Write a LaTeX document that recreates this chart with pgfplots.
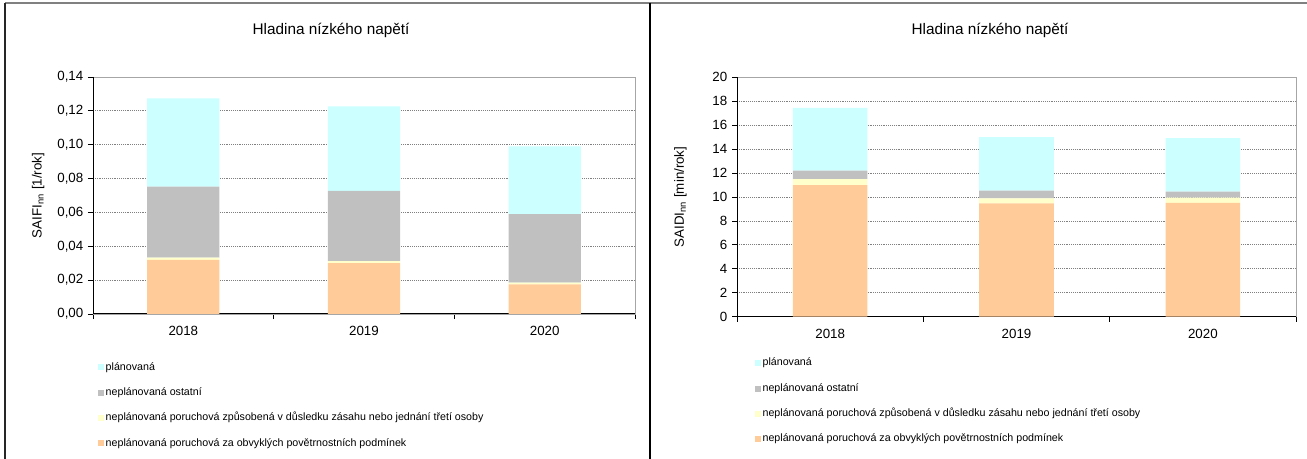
\documentclass[border=0pt]{standalone}
\usepackage{fontspec}
\setmainfont{Liberation Sans}
\usepackage{pgfplots}
\pgfplotsset{compat=1.18}

\definecolor{planovana}{HTML}{CCFFFF}
\definecolor{ostatni}{HTML}{C0C0C0}
\definecolor{tretiosoba}{HTML}{FFFFCC}
\definecolor{poveternost}{HTML}{FFCC99}
\definecolor{gridgray}{HTML}{808080}

\pgfplotsset{
  sqlegend/.style={legend image code/.code={\fill[##1] (0pt,-2.2pt) rectangle (4.4pt,2.2pt); \path (5.6pt,0pt);}},
  nnchart/.style={
    scale only axis,
    ybar stacked,
    bar width=0.4,
    ymin=0,
    xmin=-0.5, xmax=2.5,
    xtick={0,1,2},
    xticklabels={2018,2019,2020},
    major x tick style={draw=none},
    minor xtick={-0.5,0.5,1.5,2.5},
    minor tick length=3.75pt,
    major tick length=3.75pt,
    tick align=outside,
    tick pos=left,
    tick style={black, line width=0.6pt},
    ymajorgrids,
    major grid style={gridgray, densely dotted, line width=0.6pt},
    axis line style={gray!70, line width=0.7pt},
    /pgf/number format/assume math mode=true,
    tick label style={font=\fontsize{10}{12}\selectfont},
    xticklabel style={yshift=-2pt},
    ylabel style={font=\fontsize{10}{12}\selectfont},
    every axis y label/.style={at={(axis description cs:-0.101,0.5)}, rotate=90, anchor=center},
    legend style={draw=none, fill=none, inner sep=0pt, anchor=north west,
      font=\fontsize{8}{10}\selectfont, row sep=11pt,
      nodes={inner sep=0pt, text height=6pt, text depth=2pt}},
    legend cell align=left,
    reverse legend,
    every axis plot post/.append style={sqlegend},
  },
}

\begin{document}
\begin{tikzpicture}
\path[use as bounding box] (0,0) rectangle (980.25pt,-344.25pt);

% ramecky grafu
\draw[gray, line width=1.1pt] (3.75pt,-2.25pt) -- (980.25pt,-2.25pt);
\draw[black!85, line width=0.8pt] (3.75pt,-2.25pt) -- (3.75pt,-344.25pt);
\draw[black, line width=0.8pt] (487.5pt,-2.25pt) -- (487.5pt,-344.25pt);

\node[font=\fontsize{11.5}{13}\selectfont] at (248.25pt,-22.5pt) {Hladina nízkého napětí};
\node[font=\fontsize{11.5}{13}\selectfont] at (742.5pt,-22.5pt) {Hladina nízkého napětí};

% SAIFI
\begin{axis}[nnchart,
    at={(69.75pt,-57.75pt)}, anchor=north west,
    width=406.5pt, height=177.75pt,
    ymax=0.14, ytick={0,0.02,...,0.14},
    scaled y ticks=false,
    yticklabel style={/pgf/number format/.cd, use comma, fixed, fixed zerofill, precision=2},
    ylabel={SAIFI\textsubscript{nn} [1/rok]},
    legend style={at={(axis description cs:0.0092,-0.2015)}},
  ]
\addplot[fill=poveternost, draw=none] coordinates {(0,0.032) (1,0.030) (2,0.0175)};
\addplot[fill=tretiosoba, draw=none] coordinates {(0,0.0013) (1,0.0012) (2,0.001)};
\addplot[fill=ostatni, draw=none] coordinates {(0,0.042) (1,0.0415) (2,0.0405)};
\addplot[fill=planovana, draw=none] coordinates {(0,0.052) (1,0.050) (2,0.040)};
\legend{neplánovaná poruchová za obvyklých povětrnostních podmínek,
  neplánovaná poruchová způsobená v důsledku zásahu nebo jednání třetí osoby,
  neplánovaná ostatní,
  plánovaná}
\draw[black, line width=0.8pt] (rel axis cs:0,1) -- (rel axis cs:0,0) -- (rel axis cs:1,0);
\end{axis}

% SAIDI
\begin{axis}[nnchart,
    at={(552.75pt,-58pt)}, anchor=north west,
    width=419.25pt, height=179.5pt,
    ymax=20, ytick={0,2,...,20},
    ylabel={SAIDI\textsubscript{nn} [min/rok]},
    legend style={at={(axis description cs:0.032,-0.1715)}},
  ]
\addplot[fill=poveternost, draw=none] coordinates {(0,11.0) (1,9.47) (2,9.5)};
\addplot[fill=tretiosoba, draw=none] coordinates {(0,0.5) (1,0.42) (2,0.44)};
\addplot[fill=ostatni, draw=none] coordinates {(0,0.7) (1,0.64) (2,0.5)};
\addplot[fill=planovana, draw=none] coordinates {(0,5.25) (1,4.48) (2,4.49)};
\legend{neplánovaná poruchová za obvyklých povětrnostních podmínek,
  neplánovaná poruchová způsobená v důsledku zásahu nebo jednání třetí osoby,
  neplánovaná ostatní,
  plánovaná}
\draw[black, line width=0.8pt] (rel axis cs:0,1) -- (rel axis cs:0,0) -- (rel axis cs:1,0);
\end{axis}
\end{tikzpicture}
\end{document}
